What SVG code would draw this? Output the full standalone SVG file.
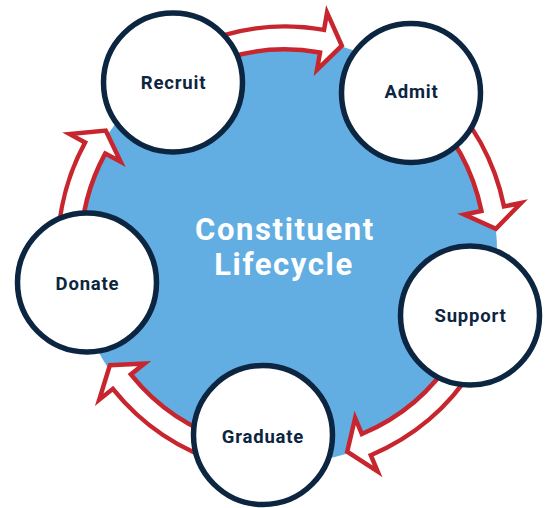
<svg xmlns="http://www.w3.org/2000/svg" xmlns:xlink="http://www.w3.org/1999/xlink" width="550" height="508" viewBox="0 0 550 508">
  <style>
    .hub { fill: #62aee2; }
    .flow { fill: #ffffff; stroke: #c8262e; stroke-width: 4.5; stroke-linejoin: miter; stroke-miterlimit: 4; }
    .node circle { fill: #ffffff; stroke: #0c2540; stroke-width: 5.5; }
    .node text { font-family: Roboto, "Liberation Sans", sans-serif; font-weight: 700; font-size: 18.5px; fill: #0c2540; text-anchor: middle; letter-spacing: 0.8px; }
    .title { font-family: Roboto, "Liberation Sans", sans-serif; font-weight: 700; font-size: 31px; fill: #ffffff; text-anchor: middle; letter-spacing: 1.6px; }
  </style>
  <defs>
    <!-- curved block arrow around the origin: shaft from -35deg to 0deg, head tip at +5.5deg -->
    <path id="arc-arrow" d="M 164.24,-115.00 A 200.5 200.5 0 0 1 200.5,0 L 183,0 L 211.02,20.32 L 241,0 L 223.5,0 A 223.5 223.5 0 0 0 183.08,-128.19 Z"/>
  </defs>

  <rect width="550" height="508" fill="#ffffff"/>

  <g id="hub">
    <circle class="hub" cx="285" cy="251" r="212"/>
    <text class="title" x="285" y="240">Constituent</text>
    <text class="title" x="284" y="275">Lifecycle</text>
  </g>

  <g id="connectors">
    <use xlink:href="#arc-arrow" class="flow" transform="translate(285.2,250) rotate(-80)"/>
    <use xlink:href="#arc-arrow" class="flow" transform="translate(285,251) rotate(-11.5)"/>
    <use xlink:href="#arc-arrow" class="flow" transform="translate(284.2,249.2) rotate(67.2)"/>
    <use xlink:href="#arc-arrow" class="flow" transform="translate(287.3,249.1) rotate(141.3)"/>
    <use xlink:href="#arc-arrow" class="flow" transform="translate(281.5,249.1) rotate(208.5)"/>
  </g>

  <g id="recruit" class="node">
    <circle cx="173" cy="82.5" r="69.5"/>
    <text x="173.5" y="89">Recruit</text>
  </g>
  <g id="admit" class="node">
    <circle cx="411" cy="93" r="69.5"/>
    <text x="411.5" y="98">Admit</text>
  </g>
  <g id="support" class="node">
    <circle cx="470" cy="315.5" r="69.5"/>
    <text x="470.5" y="322">Support</text>
  </g>
  <g id="graduate" class="node">
    <circle cx="263" cy="435" r="69.5"/>
    <text x="263" y="443">Graduate</text>
  </g>
  <g id="donate" class="node">
    <circle cx="87" cy="282.5" r="69.5"/>
    <text x="87.5" y="290">Donate</text>
  </g>
</svg>
